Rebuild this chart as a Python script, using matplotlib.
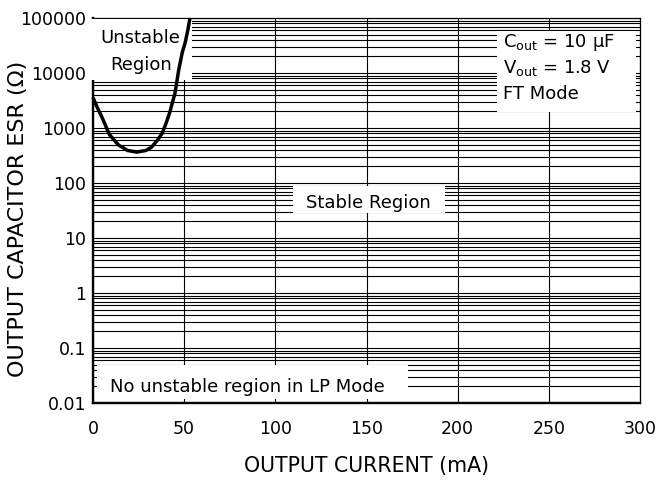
import matplotlib
matplotlib.use("Agg")
import matplotlib.pyplot as plt
from matplotlib.patches import Rectangle
from matplotlib.ticker import FixedLocator, LogLocator, NullFormatter

plt.rcParams['font.family'] = ['DejaVu Sans']
plt.rcParams['mathtext.fontset'] = 'dejavusans'

# boundary curve, FT mode
current_ma = [0, 2, 5, 9, 14, 19, 24, 29, 32, 35, 38, 40, 42, 45, 47, 49, 50.5, 52, 53.2]
esr_ohm = [3600, 2500, 1550, 760, 490, 390, 365, 390, 445, 580, 810, 1200, 1870,
           4350, 11300, 24000, 35000, 60000, 100000]

x_ticks = [0, 50, 100, 150, 200, 250, 300]
y_ticks = [0.01, 0.1, 1, 10, 100, 1000, 10000, 100000]
y_tick_labels = ["0.01", "0.1", "1", "10", "100", "1000", "10000", "100000"]

fig = plt.figure(figsize=(6.58, 4.83), dpi=100)
ax = fig.add_axes([93 / 658, 1 - 403 / 483, 547 / 658, 385 / 483])

ax.set_yscale('log')
ax.set_xlim(0, 300)
ax.set_ylim(0.01, 100000)
ax.set_axisbelow(True)

ax.set_xticks(x_ticks)
ax.yaxis.set_major_locator(FixedLocator(y_ticks))
ax.set_yticklabels(y_tick_labels)
ax.yaxis.set_minor_locator(LogLocator(base=10, subs=range(2, 10), numticks=20))
ax.yaxis.set_minor_formatter(NullFormatter())
ax.tick_params(axis='both', which='both', length=0, labelsize=12.5, colors='black')
ax.tick_params(axis='x', pad=12)
ax.tick_params(axis='y', pad=5)

ax.grid(True, axis='x', which='major', color='black', lw=0.8)
ax.grid(True, axis='y', which='both', color='black', lw=0.8)

for side in ['left', 'bottom']:
    ax.spines[side].set_linewidth(1.7)
for side in ['top', 'right']:
    ax.spines[side].set_linewidth(0.9)

# white boxes behind the labels
ax.add_patch(Rectangle((-0.004, 0.839), 0.185, 0.159, transform=ax.transAxes,
                       facecolor='white', edgecolor='none', zorder=3, clip_on=False))
ax.add_patch(Rectangle((0.7386, 0.756), 0.2541, 0.2115, transform=ax.transAxes,
                       facecolor='white', edgecolor='none', zorder=1))
ax.add_patch(Rectangle((0.3656, 0.4935), 0.2779, 0.0701, transform=ax.transAxes,
                       facecolor='white', edgecolor='none', zorder=1))
ax.add_patch(Rectangle((0.008, 0.0104), 0.568, 0.0883, transform=ax.transAxes,
                       facecolor='white', edgecolor='none', zorder=1))

ax.plot(current_ma, esr_ohm, color='black', lw=2.5, zorder=4, clip_on=False,
        solid_capstyle='butt', solid_joinstyle='round')

tkw = dict(transform=ax.transAxes, fontsize=13, zorder=5)
ax.text(0.0872, 0.934, "Unstable", ha='center', va='baseline', **tkw)
ax.text(0.0872, 0.865, "Region", ha='center', va='baseline', **tkw)
ax.text(0.503, 0.506, "Stable Region", ha='center', va='baseline', **tkw)
ax.text(0.031, 0.029, "No unstable region in LP Mode", ha='left', va='baseline', **tkw)
ax.text(0.7495, 0.9255, r"C$_{\mathrm{out}}$ = 10 $\mathrm{\mu}$F", ha='left', va='baseline', **tkw)
ax.text(0.7495, 0.8564, r"V$_{\mathrm{out}}$ = 1.8 V", ha='left', va='baseline', **tkw)
ax.text(0.7495, 0.7888, "FT Mode", ha='left', va='baseline', **tkw)

ax.set_xlabel("OUTPUT CURRENT (mA)", fontsize=14.8, labelpad=13)
ax.set_ylabel("OUTPUT CAPACITOR ESR (Ω)", fontsize=16)
ax.yaxis.set_label_coords(-0.119, 0.479)

fig.savefig("out.png", dpi=100)
